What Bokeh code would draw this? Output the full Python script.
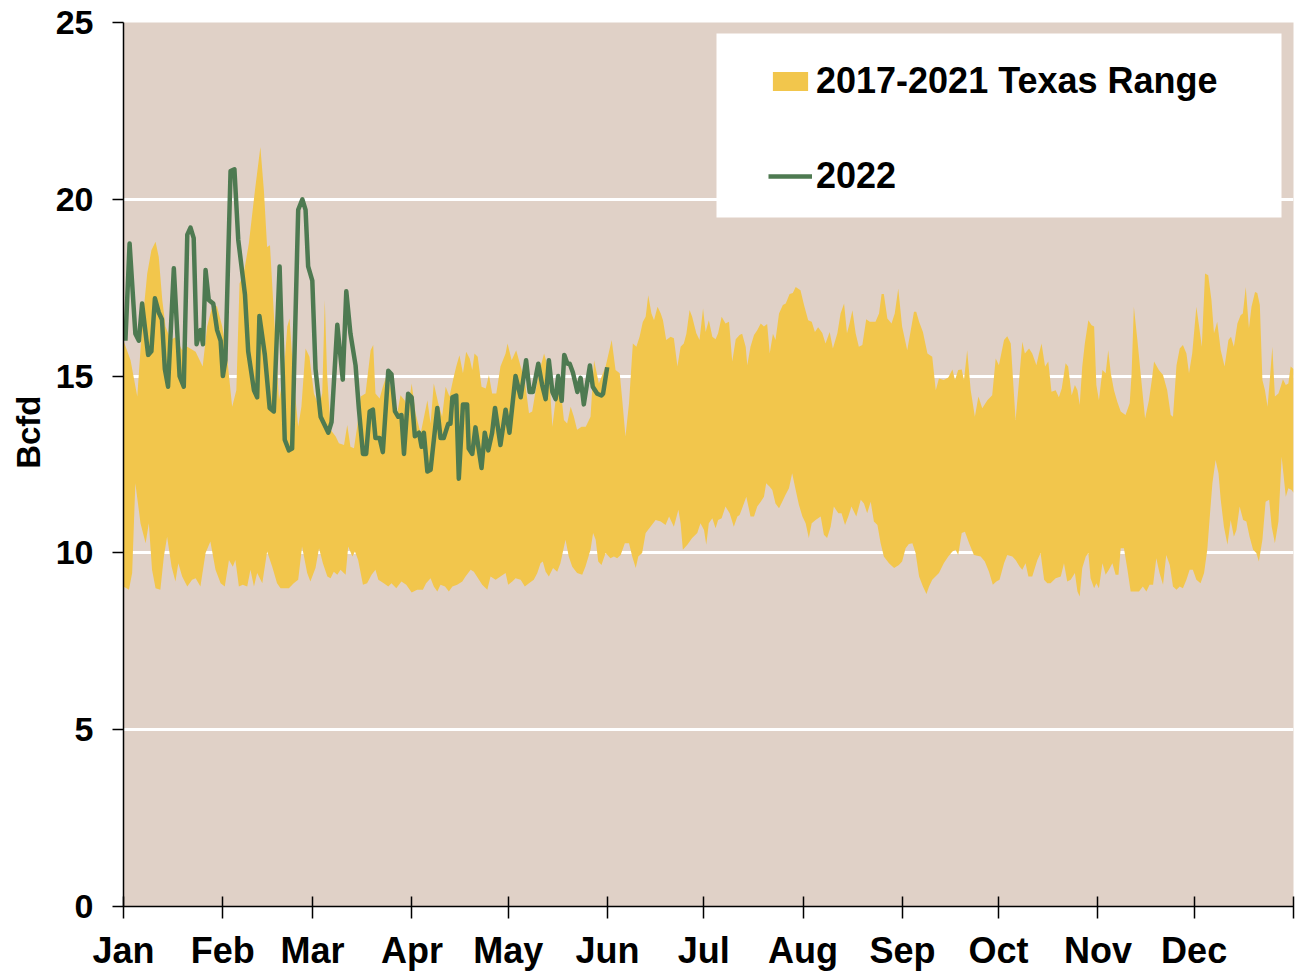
from bokeh.plotting import figure
from bokeh.models import FixedTicker, Legend, LegendItem, BoxAnnotation, Title, Range1d
from bokeh.embed import file_html
from bokeh.resources import INLINE

# ---------------- data ----------------
month_days = [0, 31, 59, 90, 120, 151, 181, 212, 243, 273, 304, 334, 365]
month_labels = ["Jan", "Feb", "Mar", "Apr", "May", "Jun", "Jul", "Aug", "Sep", "Oct", "Nov", "Dec", ""]
y_ticks = [0, 5, 10, 15, 20, 25]

# 2017-2021 range: upper envelope (day of year, Bcfd)
range_hi_day = [0, 2.2, 4.3, 5.8, 7.4, 8.7, 10.0, 11.0, 12.1, 13.1, 14.7, 16.2, 18.3, 19.9, 22.5, 24.7, 26.1, 27.9, 29.2, 30.8,
                32.3, 33.9, 35.2, 36.2, 37.5, 39.1, 41.0, 42.7, 43.8, 44.8, 45.7, 46.9, 48.5, 50.0, 51.1, 51.8, 53.1, 54.5, 55.5,
                56.8, 58.0, 59.4, 61.0, 62.0, 62.8, 63.5, 64.6, 66.2, 67.2, 68.8, 69.8, 70.8, 71.9, 72.9, 74.0, 75.5, 77.1, 77.9,
                78.6, 79.9, 80.9, 82.3, 83.8, 85.4, 86.4, 87.7, 88.7, 89.9, 91.1, 92.7, 94.8, 95.8, 96.8, 98.2, 99.4, 100.5, 101.7,
                102.8, 103.8, 104.8, 105.9, 106.9, 108.0, 108.8, 109.5, 110.5, 111.7, 113.0, 114.0, 115.0, 116.3, 117.6, 119.2,
                119.8, 121.1, 122.5, 123.9, 125.2, 126.5, 127.5, 128.6, 129.6, 131.2, 132.7, 133.8, 134.8, 136.0, 137.4, 138.4,
                139.5, 140.5, 141.5, 142.9, 144.2, 145.7, 146.8, 148.3, 150.4, 152.3, 153.5, 154.8, 155.6, 156.6, 157.7, 158.9,
                160.0, 161.0, 162.0, 162.9, 163.7, 164.7, 165.5, 166.6, 167.6, 168.3, 169.3, 170.7, 171.7, 172.8, 173.8, 174.8,
                175.6, 176.6, 177.4, 178.7, 179.7, 180.8, 181.6, 182.6, 183.7, 184.7, 185.5, 186.6, 187.8, 188.9, 189.9, 191.0,
                192.2, 193.0, 194.1, 194.6, 195.6, 196.7, 197.7, 198.8, 199.8, 200.8, 201.6, 202.6, 203.4, 204.5, 205.7, 206.6,
                207.8, 208.8, 209.7, 211.2, 212.3, 213.6, 214.7, 215.7, 216.7, 218.0, 219.0, 220.3, 221.3, 222.7, 223.7, 224.8,
                225.7, 226.5, 227.4, 228.4, 229.4, 230.5, 231.7, 232.8, 234.6, 235.7, 236.5, 237.2, 238.3, 239.6, 240.6, 241.7,
                242.9, 244.5, 245.6, 246.6, 247.3, 248.2, 249.4, 250.8, 252.3, 253.4, 254.4, 255.9, 257.3, 258.6, 259.4, 260.4,
                261.5, 262.2, 263.2, 264.3, 265.6, 266.7, 267.9, 269.5, 271.0, 272.1, 273.1, 274.7, 275.7, 276.8, 278.3, 279.4,
                280.4, 281.2, 282.5, 283.5, 284.8, 285.6, 286.4, 287.5, 288.5, 289.5, 290.8, 291.8, 292.7, 293.9, 294.7, 295.8,
                296.8, 297.6, 298.3, 299.1, 299.9, 301.0, 302.0, 302.8, 303.5, 304.3, 305.4, 306.4, 307.2, 308.0, 309.0, 310.0,
                311.1, 312.6, 313.9, 314.5, 315.2, 316.3, 317.3, 318.7, 319.9, 320.8, 321.5, 323.0, 324.3, 325.6, 326.7, 327.4,
                328.5, 329.5, 330.5, 331.6, 332.4, 333.4, 334.7, 335.5, 336.4, 337.4, 338.4, 339.4, 340.2, 341.2, 342.3, 343.5,
                344.7, 345.5, 346.4, 347.5, 348.5, 349.2, 350.1, 351.1, 351.9, 353.0, 353.7, 354.5, 355.3, 356.1, 356.9, 357.6,
                358.4, 359.2, 360.3, 361.0, 361.7, 362.6, 363.4, 364.1, 365]
range_hi = [16.0, 15.45, 14.42, 16.4, 17.9, 18.56, 18.8, 18.37, 17.15, 16.4, 16.02, 16.1, 15.73, 15.83, 15.69, 15.27, 16.4, 17.05, 16.96, 16.4,
            15.55, 14.13, 14.6, 17.62, 17.9, 18.75, 20.25, 21.48, 20.25, 18.65, 18.7, 16.77, 14.32, 15.08, 16.4, 16.63, 14.89, 13.57, 14.13,
            15.78, 15.55, 14.51, 14.13, 14.51, 17.15, 15.08, 13.48, 13.29, 13.1, 13.05, 13.62, 13.0, 12.96, 13.57, 14.42, 14.51, 15.73, 15.88,
            14.51, 14.37, 14.7, 15.08, 14.51, 13.95, 14.46, 14.32, 14.04, 14.79, 13.95, 13.38, 14.32, 13.66, 14.79, 14.23, 13.85, 14.7, 14.42,
            14.89, 15.27, 15.59, 15.08, 15.69, 15.5, 15.17, 15.64, 15.55, 14.7, 14.65, 15.03, 14.51, 14.51, 15.27, 15.64,
            15.92, 15.45, 15.73, 15.27, 14.89, 13.95, 14.0, 14.6, 15.08, 15.64, 15.17, 13.57, 14.32, 14.98, 13.76, 13.66,
            14.13, 13.85, 13.48, 13.57, 13.57, 13.85, 15.45, 14.79, 15.27, 16.02, 15.17, 15.08, 14.32, 13.29, 14.23, 15.92,
            15.83, 16.11, 16.53, 16.68, 17.29, 16.77, 16.58, 16.96, 16.77, 16.58, 16.02, 16.11, 16.07, 15.27, 15.83, 15.92,
            16.2, 16.87, 16.68, 16.21, 16.02, 16.91, 16.25, 16.58, 16.11, 16.04, 16.21, 16.68, 16.49, 16.54, 15.41, 16.04,
            16.16, 16.2, 15.83, 15.31, 15.83, 16.16, 16.3, 16.49, 16.4, 16.47, 15.64, 16.2, 16.02, 16.77, 17.01, 17.05,
            17.32, 17.35, 17.52, 17.43, 17.01, 16.58, 16.54, 16.25, 16.38, 16.22, 15.92, 16.25, 15.78, 16.21, 16.77, 17.05,
            16.21, 16.49, 16.86, 16.21, 15.83, 15.88, 16.61, 16.54, 16.54, 16.77, 17.32, 17.32, 16.63, 16.49, 16.77, 17.48,
            16.4, 15.73, 16.3, 16.82, 16.82, 16.54, 16.25, 15.64, 15.55, 14.6, 14.93, 14.89, 14.96, 15.19, 14.89, 15.17,
            15.19, 14.89, 15.73, 14.6, 13.85, 14.42, 14.09, 14.32, 14.46, 15.5, 15.31, 16.02, 16.13, 15.92, 13.76, 14.89,
            15.97, 15.64, 15.78, 15.64, 15.31, 15.64, 15.92, 15.27, 15.41, 14.56, 14.6, 14.4, 14.65, 15.36, 15.27, 14.46,
            14.75, 14.6, 14.18, 15.27, 15.92, 16.58, 16.44, 16.4, 14.75, 14.32, 15.17, 15.08, 15.73, 15.08, 14.6, 14.28,
            14.0, 13.9, 14.23, 15.08, 16.96, 16.02, 15.08, 13.8, 14.32, 14.89, 15.41, 15.17, 15.03, 14.6, 13.9, 13.85,
            15.31, 15.78, 15.88, 15.64, 15.08, 15.64, 16.96, 16.44, 15.83, 17.9, 17.85, 17.15, 16.21, 16.54, 15.73, 15.27,
            16.02, 16.11, 15.83, 16.49, 16.72, 16.77, 17.52, 16.35, 16.96, 17.38, 17.35, 17.01, 14.89, 14.6, 14.13, 14.89,
            15.83, 14.42, 14.51, 14.7, 14.91, 14.75, 14.79, 15.27, 15.2]

# 2017-2021 range: lower envelope (day of year, Bcfd)
range_lo_day = [0, 1.7, 2.7, 3.7, 5.3, 6.9, 7.9, 8.9, 10.0, 11.5, 12.6, 13.6, 15.0, 16.2, 17.1, 18.3, 19.9, 21.4, 22.5, 24.0,
                25.6, 27.1, 28.7, 30.3, 31.6, 32.9, 34.1, 34.9, 36.0, 37.2, 38.6, 39.6, 40.7, 41.7, 43.3, 44.8, 46.4, 47.9, 49.0,
                51.6, 53.1, 54.5, 55.7, 57.3, 58.3, 59.9, 61.0, 62.2, 63.6, 64.6, 65.6, 66.7, 67.7, 69.3, 70.1, 71.4, 72.2, 73.2,
                74.7, 76.0, 77.4, 78.6, 79.5, 81.2, 82.6, 83.6, 85.1, 86.7, 88.2, 89.9, 91.6, 93.4, 94.4, 95.8, 96.8, 97.9, 98.9,
                100.3, 101.5, 102.6, 104.1, 105.7, 106.7, 108.3, 109.3, 110.9, 111.9, 113.5, 114.5, 116.1, 117.6, 119.2, 120.0,
                121.3, 122.3, 123.9, 125.2, 126.5, 128.0, 129.1, 130.1, 130.8, 131.7, 132.7, 134.0, 135.3, 136.3, 137.9, 138.9,
                140.0, 141.5, 143.1, 144.1, 145.7, 146.5, 147.3, 148.1, 149.1, 150.4, 151.9, 153.0, 154.0, 155.1, 156.4, 157.7,
                158.7, 159.8, 160.6, 161.8, 162.9, 164.4, 166.0, 167.6, 169.1, 170.2, 171.7, 173.1, 173.8, 174.5, 175.9, 177.4,
                179.0, 180.0, 181.1, 181.8, 182.6, 183.7, 184.7, 185.5, 186.6, 187.8, 189.1, 190.4, 191.5, 192.2, 193.2, 194.3,
                195.6, 196.7, 197.7, 198.8, 199.8, 200.5, 201.6, 202.4, 203.4, 204.5, 205.5, 206.5, 207.6, 208.6, 209.7, 210.7,
                211.8, 212.8, 213.8, 214.7, 215.9, 217.5, 218.5, 219.5, 220.6, 221.6, 223.0, 224.0, 225.1, 226.1, 227.1, 228.6,
                230.0, 231.0, 232.0, 233.1, 234.1, 235.2, 236.2, 237.2, 238.8, 240.4, 241.9, 242.9, 244.0, 245.0, 246.1, 247.1,
                248.2, 249.4, 250.5, 251.3, 252.3, 254.4, 255.9, 257.3, 258.6, 259.6, 260.4, 261.5, 262.5, 263.8, 265.3, 267.4,
                268.7, 270.0, 271.2, 272.3, 273.3, 274.7, 275.7, 277.3, 278.3, 279.6, 280.4, 281.4, 282.3, 283.5, 285.1, 286.1,
                287.2, 288.2, 289.2, 290.8, 292.4, 293.4, 294.4, 295.5, 296.8, 297.6, 298.3, 299.1, 300.2, 301.0, 301.7, 302.8,
                303.5, 304.3, 305.4, 306.4, 307.4, 308.5, 309.5, 310.4, 311.1, 312.1, 313.2, 314.2, 315.2, 316.8, 318.0, 319.1,
                320.1, 321.2, 322.2, 323.2, 324.3, 325.3, 326.4, 327.4, 328.5, 329.5, 330.5, 331.6, 332.6, 333.6, 334.7, 336.0,
                337.1, 338.1, 338.8, 339.7, 340.7, 341.6, 342.3, 343.3, 344.4, 345.4, 346.4, 347.2, 348.2, 349.3, 350.3, 351.3,
                352.4, 353.4, 354.2, 355.3, 356.3, 357.4, 358.2, 359.2, 360.3, 361.3, 362.6, 363.4, 364.4, 365]
range_lo = [9.05, 8.96, 9.43, 11.97, 10.84, 10.27, 10.84, 9.52, 9.0, 8.96, 9.9, 10.46, 9.61, 9.19, 9.71, 9.33, 9.05, 9.24, 9.28, 9.05,
            10.0, 10.32, 9.52, 9.14, 9.05, 9.8, 9.61, 9.8, 9.05, 9.1, 9.05, 9.52, 9.05, 9.43, 9.14, 10.04, 9.61, 9.14, 9.0,
            9.0, 9.14, 9.24, 10.18, 9.43, 9.19, 9.57, 10.13, 9.71, 9.33, 9.28, 9.47, 9.38, 9.52, 9.38, 10.18, 9.9, 10.04, 9.8,
            9.1, 9.14, 9.38, 9.52, 9.24, 9.14, 9.05, 9.14, 9.0, 9.19, 9.1, 8.88, 8.96, 8.96, 9.14, 9.28, 9.05, 8.91, 9.1,
            9.05, 8.91, 9.05, 9.1, 9.19, 9.33, 9.52, 9.47, 9.24, 9.1, 8.96, 9.33, 9.24, 9.33, 9.43, 9.1,
            9.19, 9.28, 9.24, 9.05, 9.14, 9.24, 9.43, 9.71, 9.76, 9.47, 9.33, 9.57, 9.47, 9.71, 10.37, 9.9,
            9.61, 9.43, 9.38, 9.61, 10.09, 10.56, 10.37, 9.76, 9.66, 10.0, 9.85, 9.9, 9.85, 9.94, 10.27, 10.27,
            9.9, 9.57, 9.9, 10.0, 10.56, 10.74, 10.93, 10.89, 10.79, 11.03, 10.74, 11.22, 10.84, 10.09, 10.23, 10.42,
            10.56, 10.84, 10.65, 10.23, 10.84, 10.98, 10.7, 10.93, 10.98, 11.31, 11.12, 10.74, 11.03, 11.07, 11.31, 11.59,
            11.03, 11.03, 11.31, 11.45, 11.59, 11.97, 11.87, 11.78, 11.4, 11.26, 11.45, 11.64, 11.83, 12.25, 11.78, 11.36,
            11.03, 10.84, 10.42, 10.84, 10.93, 11.03, 10.51, 10.42, 10.74, 11.31, 11.12, 11.12, 10.79, 11.03, 11.31, 11.03,
            11.5, 11.4, 11.12, 11.45, 10.89, 10.79, 10.27, 9.9, 9.71, 9.57, 9.66, 9.76, 10.13, 10.25, 10.27, 10.0,
            9.33, 9.05, 8.84, 9.05, 9.24, 9.43, 9.71, 9.9, 10.04, 10.09, 9.94, 10.56, 10.6, 10.27, 9.94, 9.9,
            9.76, 9.47, 9.1, 9.19, 9.24, 9.71, 9.94, 9.9, 9.8, 9.61, 9.52, 9.71, 9.33, 9.33, 9.8, 10.0,
            9.24, 9.14, 9.14, 9.28, 9.33, 9.71, 9.19, 9.24, 9.43, 8.91, 8.77, 9.57, 9.9, 10.0, 9.28, 9.0,
            9.14, 9.0, 9.71, 9.38, 9.52, 9.71, 9.38, 9.38, 10.13, 10.13, 9.52, 8.91, 8.91, 8.91, 9.05, 8.91,
            9.1, 9.1, 9.85, 9.43, 9.1, 9.94, 9.66, 9.05, 8.96, 9.05, 9.0, 9.24, 9.52, 9.52, 9.24, 9.14,
            9.43, 10.09, 10.93, 11.97, 12.63, 12.25, 11.5, 10.74, 10.23, 10.93, 10.46, 10.65, 11.31, 10.93, 10.89, 10.46,
            10.09, 10.0, 9.76, 10.37, 11.45, 11.5, 10.74, 10.27, 10.89, 12.72, 11.59, 11.83, 11.78, 11.7]

# 2022 (day of year, Bcfd)
y2022_day = [0.6, 1.9, 3.7, 4.8, 5.8, 7.7, 8.7, 9.8, 11.0, 12.0, 12.9, 13.9, 15.7, 17.5, 18.8, 19.9, 20.9, 21.9, 22.8, 24.0,
             24.8, 25.6, 26.6, 28.0, 29.2, 30.3, 31.0, 31.8, 33.4, 34.6, 35.8, 37.9, 38.9, 40.7, 41.7, 42.4, 44.1, 45.6, 46.9,
             48.7, 50.3, 51.6, 52.6, 54.5, 55.8, 56.8, 57.6, 58.9, 59.9, 61.5, 63.9, 64.9, 66.7, 68.4, 69.5, 70.8, 72.4, 73.4,
             74.7, 75.7, 76.8, 77.8, 78.6, 79.9, 80.9, 82.6, 83.6, 84.7, 85.7, 86.7, 87.5, 88.8, 89.9, 90.9, 92.2, 93.0, 93.7,
             94.8, 95.8, 97.9, 98.9, 99.9, 101.3, 102.0, 102.6, 103.8, 104.6, 105.9, 107.2, 107.7, 108.8, 109.8, 111.7, 112.7,
             113.8, 115.0, 115.9, 117.6, 119.2, 120.4, 122.3, 123.9, 125.6, 126.7, 127.7, 129.4, 130.6, 131.7, 132.7, 133.8,
             134.8, 135.6, 136.7, 137.5, 138.5, 139.2, 140.2, 141.6, 142.6, 143.6, 145.5, 146.4, 147.8, 149.1, 149.6, 150.9]
y2022 = [16.0, 18.75, 16.2, 16.0, 17.05, 15.6, 15.7, 17.2, 16.8, 16.6, 15.2, 14.7, 18.05, 15.0, 14.7, 19.0, 19.2, 18.9, 15.9, 16.3,
         15.9, 18.0, 17.15, 17.05, 16.3, 16.0, 15.0, 15.45, 20.8, 20.85, 18.85, 17.3, 15.7, 14.6, 14.4, 16.7, 15.6, 14.1, 14.0,
         18.1, 13.2, 12.9, 12.95, 19.7, 20.0, 19.7, 18.1, 17.7, 15.2, 13.85, 13.4, 13.7, 16.45, 14.9, 17.4, 16.2, 15.3, 14.1,
         12.8, 12.8, 14.0, 14.05, 13.25, 13.25, 12.85, 15.15, 15.05, 14.0, 13.85, 13.9, 12.8, 14.5, 14.4, 13.3, 13.4, 13.0, 13.4,
         12.3, 12.35, 14.1, 13.25, 13.25, 13.65, 13.65, 14.4, 14.45, 12.1, 14.2, 14.2, 12.95, 12.8, 13.55, 12.4, 13.4,
         12.9, 13.4, 14.1, 13.05, 14.05, 13.4, 15.0, 14.4, 15.45, 14.55, 14.55, 15.35, 14.75, 14.35, 15.45, 14.55,
         14.35, 15.0, 14.3, 15.6, 15.35, 15.35, 15.1, 14.55, 14.95, 14.2, 15.3, 14.7, 14.5, 14.45, 14.5, 15.25]

# ---------------- styling ----------------
FONT = "Liberation Sans"
BAND = "#F2C64C"
LINE = "#4E7A51"
BG = "#E0D1C7"

p = figure(width=1296, height=973, output_backend="svg", toolbar_location=None,
           x_range=Range1d(0, 365), y_range=Range1d(0, 25),
           min_border_left=123, min_border_right=3, min_border_top=22, min_border_bottom=66,
           background_fill_color=BG, border_fill_color="white", outline_line_color=None)

band = p.patch(range_hi_day + range_lo_day[::-1], range_hi + range_lo[::-1],
               fill_color=BAND, line_color=None)
ln = p.line(y2022_day, y2022, line_color=LINE, line_width=4.5, line_join="round")

# grid
p.xgrid.visible = False
p.ygrid.ticker = FixedTicker(ticks=[5, 10, 15, 20])
p.ygrid.grid_line_color = "white"
p.ygrid.grid_line_width = 3

# axes
p.yaxis.ticker = FixedTicker(ticks=y_ticks)
p.yaxis.major_tick_in = 0
p.yaxis.major_tick_out = 11
p.yaxis.minor_tick_line_color = None
p.yaxis.major_label_standoff = 19
p.yaxis.major_label_text_font = FONT
p.yaxis.major_label_text_font_style = "bold"
p.yaxis.major_label_text_font_size = "34px"
p.yaxis.major_label_text_color = "black"

p.xaxis.ticker = FixedTicker(ticks=month_days)
p.xaxis.major_label_overrides = {d: lab for d, lab in zip(month_days, month_labels)}
p.xaxis.major_tick_in = 10
p.xaxis.major_tick_out = 12
p.xaxis.minor_tick_line_color = None
p.xaxis.major_label_standoff = 11
p.xaxis.major_label_text_font = FONT
p.xaxis.major_label_text_font_style = "bold"
p.xaxis.major_label_text_font_size = "36px"
p.xaxis.major_label_text_color = "black"

for ax in (p.xaxis, p.yaxis):
    ax.axis_line_color = "black"
    ax.axis_line_width = 1.5
    ax.major_tick_line_color = "black"
    ax.major_tick_line_width = 1.5

# y-axis title
p.add_layout(Title(text="Bcfd", align="right", offset=373,
                   text_font=FONT, text_font_style="bold", text_font_size="33px",
                   text_color="black", standoff=12), "left")

# legend box and legend
box = BoxAnnotation(left=593, right=1158, bottom=689, top=873,
                    left_units="screen", right_units="screen",
                    bottom_units="screen", top_units="screen",
                    fill_color="white", fill_alpha=1.0, line_color=None)
p.add_layout(box)

legend = Legend(items=[LegendItem(label="2017-2021 Texas Range", renderers=[band]),
                       LegendItem(label="2022", renderers=[ln])],
                location=(645, 709), orientation="vertical",
                glyph_width=44, glyph_height=24, label_standoff=4,
                label_text_font=FONT, label_text_font_style="bold",
                label_text_font_size="36px", label_text_color="black",
                label_height=40, spacing=53, padding=0, margin=0,
                border_line_alpha=0, background_fill_alpha=0)
p.add_layout(legend)

open("out.html", "w").write(file_html(p, INLINE))
